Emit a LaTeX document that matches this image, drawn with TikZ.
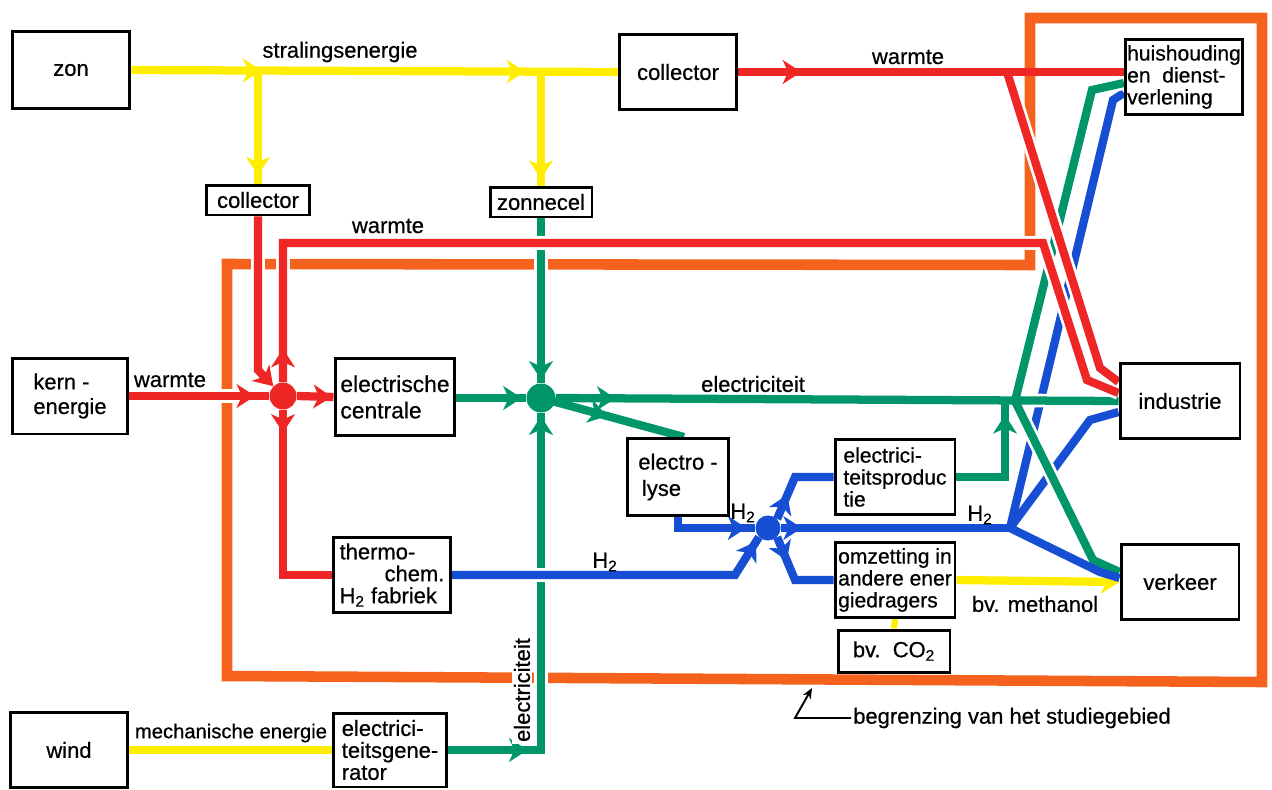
\documentclass[tikz,border=0pt]{standalone}
\usepackage{fontspec}
\setmainfont[UprightFeatures={FakeBold=0.6}]{Liberation Sans}
\usetikzlibrary{arrows.meta,decorations.markings,calc}
\pgfdeclarelayer{bg}
\pgfsetlayers{bg,main}
\definecolor{cyel}{RGB}{255,238,0}
\definecolor{cred}{RGB}{238,38,38}
\definecolor{cgrn}{RGB}{0,150,105}
\definecolor{cblu}{RGB}{22,78,212}
\definecolor{corg}{RGB}{245,98,30}
\tikzset{
 box/.style={draw=black, line width=1.7pt, fill=white, align=left, inner sep=2pt, font=\fontsize{12.5}{14}\selectfont},
 lbl/.style={font=\fontsize{12.5}{14}\selectfont, inner sep=1pt},
 hub/.style={circle, fill=#1, inner sep=0pt},
 flow/.style={line width=4.7pt},
 casing/.style={draw=white, line width=7.8pt},
 tipA/.tip={Stealth[length=10.5pt,width=13.5pt,inset=3pt]},
 ar/.style={postaction={decorate,decoration={markings,mark=at position #1 with {\arrow{tipA}}}}},
 border/.style={draw=corg, line width=6pt},
}
\begin{document}
\begin{tikzpicture}[x=0.02cm,y=-0.02cm]
\useasboundingbox (0,0) rectangle (1272,789);
% boxes
\node[box, minimum width=2.36cm, minimum height=1.54cm] (zon) at (71,70) {zon};
\node[box, minimum width=2.34cm, minimum height=1.5cm] (col2) at (678,72) {collector};
\node[box, minimum width=2.06cm, minimum height=0.6cm] (col1) at (258,200) {collector};
\node[box, minimum width=2.04cm, minimum height=0.6cm] (zcel) at (541,202) {zonnecel};
\node[box, minimum width=2.3cm, minimum height=1.5cm, inner xsep=1pt, font=\fontsize{12}{12.5}\selectfont] (huis) at (1184,77) {huishouding\\en\ \ dienst-\\verlening};
\node[box, minimum width=2.32cm, minimum height=1.52cm] (kern) at (70,396) {kern -\\energie};
\node[box, minimum width=2.4cm, minimum height=1.54cm, font=\fontsize{13}{15}\selectfont] (ecen) at (395,397) {electrische\\centrale};
\node[box, minimum width=2.34cm, minimum height=1.5cm, font=\fontsize{12.5}{12.5}\selectfont] (thermo) at (392,575) {thermo-\\\hspace*{0.9cm}chem.\\H\textsubscript{2} fabriek};
\node[box, minimum width=2.02cm, minimum height=1.54cm, font=\fontsize{12.5}{15}\selectfont] (elys) at (678,477) {electro -\\\,lyse};
\node[box, minimum width=2.4cm, minimum height=1.5cm, inner xsep=1pt, font=\fontsize{12}{12.5}\selectfont] (eprod) at (895,477) {electrici-\\teitsproduc\\tie};
\node[box, minimum width=2.4cm, minimum height=1.5cm, inner xsep=1pt, font=\fontsize{12}{12.5}\selectfont] (omz) at (895,580) {omzetting in\\andere ener\\giedragers};
\node[box, minimum width=2.24cm, minimum height=0.84cm] (co2) at (894,651) {bv.\ \ CO\textsubscript{2}};
\node[box, minimum width=2.4cm, minimum height=1.5cm] (ind) at (1180,401) {industrie};
\node[box, minimum width=2.36cm, minimum height=1.5cm] (verk) at (1180,582) {verkeer};
\node[box, minimum width=2.36cm, minimum height=1.5cm] (wind) at (69,750) {wind};
\node[box, minimum width=2.28cm, minimum height=1.48cm, font=\fontsize{12.5}{12.5}\selectfont] (gen) at (390,750) {electrici-\\teitsgene-\\rator};
% hubs
\node[hub=cred, minimum size=0.54cm] (hr) at (283,396) {};
\node[hub=cgrn, minimum size=0.58cm] (hg) at (541,398) {};
\node[hub=cblu, minimum size=0.5cm] (hb) at (768,528) {};
% labels
\node[lbl] (l1) at (340,52) {stralingsenergie};
\node[lbl] (l2) at (908,57) {warmte};
\node[lbl] (l3) at (388,226) {warmte};
\node[lbl] (l4) at (170,380) {warmte};
\node[lbl] (l5) at (753,384) {electriciteit};
\node[lbl] (l6) at (743,513) {H\textsubscript{2}};
\node[lbl] (l7) at (605,562) {H\textsubscript{2}};
\node[lbl] (l8) at (980,515) {H\textsubscript{2}};
\node[lbl] (l9) at (1035,604) {bv. methanol};
\node[lbl, font=\fontsize{11.5}{14}\selectfont] (l10) at (231,733) {mechanische energie};
\node[lbl, rotate=90, fill=white] (l11) at (522,690) {electriciteit};
\node[lbl] (note) at (1012,718) {begrenzing van het studiegebied};
% junctions
\coordinate (j1) at (1015,401);
\coordinate (j2) at (1010,528);
\coordinate (r1) at (1007,72);
\begin{pgfonlayer}{bg}
% boundary
\draw[border] (1030,265) -- (1030,18) -- (1262,18) -- (1262,682) -- (227,676) -- (227,264) -- cycle;
% yellow
\draw[flow,cyel,ar=74pt,ar=224pt] (zon.east) -- (col2.west);
\draw[flow,cyel,ar=60pt] (zon.east -| col1.north) -- (col1.north);
\draw[flow,cyel,ar=62pt] (zon.east -| zcel.north) -- (zcel.north);
\draw[flow,cyel] (wind.east) -- (gen.west);
\draw[flow,cyel,-{tipA}] (omz.east) -- (verk.west);
\draw[line width=3.5pt,cyel] (co2.north) -- (omz.south);
% blue, first group
\draw[flow,cblu] (j2) -- (1113,100) -- ($(huis.west)+(0,16)$);
\draw[flow,cblu] (j2) -- (1090,420) -- ($(ind.west)+(0,11)$);
\draw[flow,cblu,ar=-5pt] (elys.south) -- (678,528) -- (hb.west);
\draw[flow,cblu,ar=15pt] (hb.north east) -- (795,477) -- (eprod.west);
\draw[flow,cblu,ar=12pt] (hb.east) -- (j2);
\draw[flow,cblu,ar=14.5pt] (hb.south east) -- (795,580) -- (omz.west);
% green casings
\draw[casing] (zcel.south) -- (hg.north);
\draw[casing] (gen.east) -- (541,750) -- (hg.south);
\draw[casing] (hg.east) -- (ind.west);
\draw[casing] (j1) -- (1092,90) -- ($(huis.west)+(0,6)$);
\draw[casing] (j1) -- (1093,560) -- ($(verk.west)+(0,-10)$);
% green
\draw[flow,cgrn,ar=-2pt] (zcel.south) -- (hg.north);
\draw[flow,cgrn,ar=45pt,ar=-2pt] (gen.east) -- (541,750) -- (hg.south);
\draw[flow,cgrn,ar=-2.5pt] (ecen.east |- hg.west) -- (hg.west);
\draw[flow,cgrn,ar=34pt] (hg.east) -- (ind.west);
\draw[flow,cgrn,ar=39pt] (hg.center) -- ($(elys.north)+(6,0)$);
\draw[flow,cgrn,ar=-8pt] (eprod.east) -- (1005,477) -- (1005,401);
\draw[flow,cgrn] (j1) -- (1092,90) -- ($(huis.west)+(0,6)$);
\draw[flow,cgrn] (j1) -- (1093,560) -- ($(verk.west)+(0,-10)$);
% blue, second group
\draw[flow,cblu] (j2) -- (1100,572) -- ($(verk.west)+(0,-4)$);
\draw[casing] (thermo.east) -- (735,575) -- (hb.south west);
\draw[flow,cblu,ar=-3pt] (thermo.east) -- (735,575) -- (hb.south west);
% red casings
\draw[casing] (hr.north) -- (283,243) -- (1043,243) -- (1087,380) -- ($(ind.west)+(0,-8)$);
\draw[casing] (r1) -- (1100,368) -- ($(ind.west)+(0,-19)$);
\draw[casing] (col1.south) -- (258,370) -- (hr.north west);
\draw[casing] (kern.east) -- (hr.west);
% red
\draw[flow,cred,ar=36pt] (col2.east) -- (col2.east -| huis.west);
\draw[flow,cred] (r1) -- (1100,368) -- ($(ind.west)+(0,-19)$);
\draw[flow,cred,ar=19pt] (hr.north) -- (283,243) -- (1043,243) -- (1087,380) -- ($(ind.west)+(0,-8)$);
\draw[flow,cred,-{tipA}] (col1.south) -- (258,370) -- (hr.north west);
\draw[flow,cred,ar=-8pt] (kern.east) -- (hr.west);
\draw[flow,cred,ar=20pt] (hr.east) -- (ecen.west);
\draw[flow,cred,ar=13pt] (hr.south) -- (283,575) -- (thermo.west);
% note arrow
\draw[line width=1.1pt,-{Stealth[length=6pt,width=5pt]}] (note.west) -- (795,718) -- (812,688);
\end{pgfonlayer}
\end{tikzpicture}
\end{document}
